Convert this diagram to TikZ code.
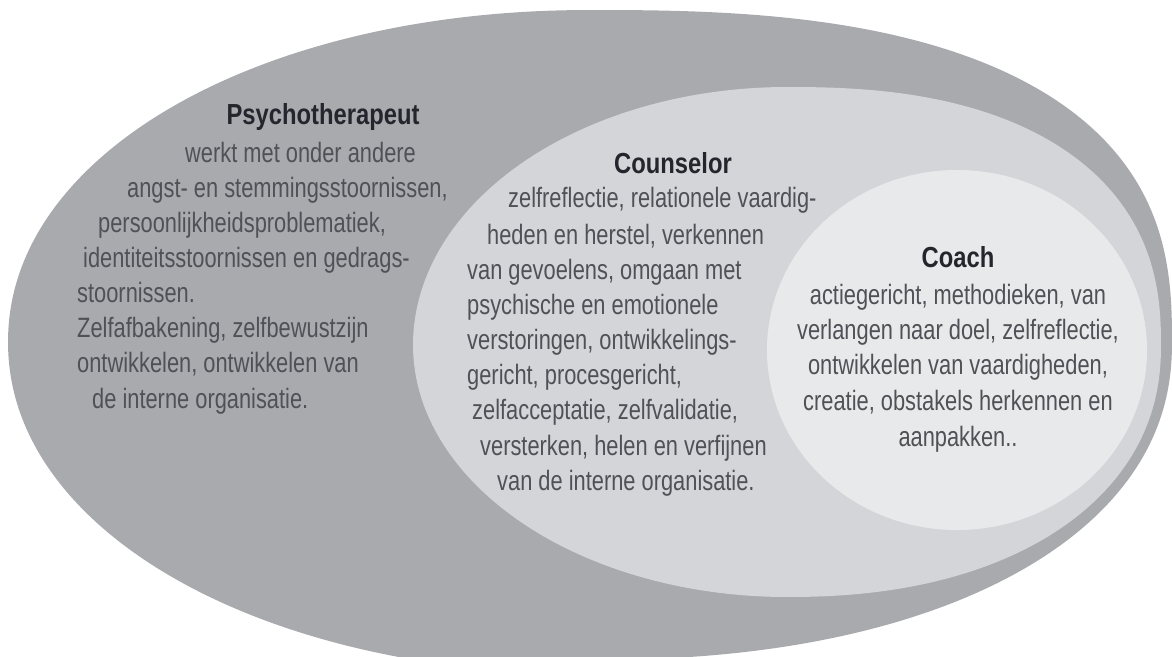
\documentclass[tikz,border=0pt]{standalone}
\usepackage{fontspec}
\newfontfamily\bodyfont[FakeStretch=0.78]{Liberation Sans}
\newfontfamily\headfont[FakeStretch=0.82]{Liberation Sans}
\definecolor{outergray}{HTML}{A9AAAE}
\definecolor{midgray}{HTML}{D4D5D8}
\definecolor{coachgray}{HTML}{E8E9EA}
\definecolor{bodytext}{HTML}{505056}
\definecolor{headtext}{HTML}{25252E}
\tikzset{
  body/.style={font=\bodyfont\fontsize{28}{35}\selectfont, text=bodytext, inner sep=0pt},
  bodyL/.style={body, anchor=base west},
  bodyC/.style={body, anchor=base},
  head/.style={font=\headfont\bfseries\fontsize{29}{35}\selectfont, text=headtext, inner sep=0pt, anchor=base},
  quad/.style={samples=90, variable=\t},
}
\begin{document}
\begin{tikzpicture}[x=1pt,y=-1pt]
\useasboundingbox (0,0) rectangle (1172,656);
\clip (0,0) rectangle (1172,656);
% outer (Psychotherapeut): four superelliptic quadrants
\fill[outergray]
  plot[quad, domain=-89.5:-0.5]
   ({590+582*cos(\t)*abs(cos(\t))^(2/2.6-1)}, {342+332*sin(\t)*abs(sin(\t))^(2/2.6-1)})
  -- plot[quad, domain=0.5:89.5]
   ({590+582*cos(\t)*abs(cos(\t))^(2/2.2-1)}, {342+318*sin(\t)*abs(sin(\t))^(2/2.2-1)})
  -- plot[quad, domain=90.5:179.5]
   ({590+582*cos(\t)*abs(cos(\t))^(2/2.05-1)}, {342+332*sin(\t)*abs(sin(\t))^(2/2.05-1)})
  -- plot[quad, domain=180.5:269.5]
   ({590+582*cos(\t)*abs(cos(\t))^(2/2.05-1)}, {342+332*sin(\t)*abs(sin(\t))^(2/2.05-1)})
  -- cycle;
% middle (Counselor)
\fill[midgray]
  plot[quad, domain=-89.5:-0.5]
   ({787+374*cos(\t)*abs(cos(\t))^(2/2.4-1)}, {345+258*sin(\t)*abs(sin(\t))^(2/2.4-1)})
  -- plot[quad, domain=0.5:89.5]
   ({787+374*cos(\t)*abs(cos(\t))^(2/2.2-1)}, {345+252*sin(\t)*abs(sin(\t))^(2/2.2-1)})
  -- plot[quad, domain=90.5:179.5]
   ({787+374*cos(\t)*abs(cos(\t))^(2/2.0-1)}, {345+252*sin(\t)*abs(sin(\t))^(2/2.0-1)})
  -- plot[quad, domain=180.5:269.5]
   ({787+374*cos(\t)*abs(cos(\t))^(2/2.0-1)}, {345+258*sin(\t)*abs(sin(\t))^(2/2.0-1)})
  -- cycle;
% inner (Coach)
\fill[coachgray] (957,350) ellipse [x radius=190pt, y radius=180pt];

% Psychotherapeut
\node[head] (ph) at (323,124) {Psychotherapeut};
\node[bodyL] (p1) at (185,162) {werkt met onder andere};
\node[bodyL] (p2) at (127,197) {angst- en stemmingsstoornissen,};
\node[bodyL] (p3) at (98,232) {persoonlijkheidsproblematiek,};
\node[bodyL] (p4) at (83,267) {identiteitsstoornissen en gedrags-};
\node[bodyL] (p5) at (77,302) {stoornissen.};
\node[bodyL] (p6) at (77,337) {Zelfafbakening, zelfbewustzijn};
\node[bodyL] (p7) at (77,372) {ontwikkelen, ontwikkelen van};
\node[bodyL] (p8) at (92,408) {de interne organisatie.};

% Counselor
\node[head] (ch) at (673,173) {Counselor};
\node[bodyL] (c1) at (508,207) {zelfreflectie, relationele vaardig-};
\node[bodyL] (c2) at (487,244) {heden en herstel, verkennen};
\node[bodyL] (c3) at (467,279) {van gevoelens, omgaan met};
\node[bodyL] (c4) at (467,314) {psychische en emotionele};
\node[bodyL] (c5) at (467,349) {verstoringen, ontwikkelings-};
\node[bodyL] (c6) at (467,384) {gericht, procesgericht,};
\node[bodyL] (c7) at (472,419) {zelfacceptatie, zelfvalidatie,};
\node[bodyL] (c8) at (480,455) {versterken, helen en verfijnen};
\node[bodyL] (c9) at (497,490) {van de interne organisatie.};

% Coach
\node[head] (kh) at (958,267) {Coach};
\node[bodyC] (k1) at (958,304) {actiegericht, methodieken, van};
\node[bodyC] (k2) at (958,339) {verlangen naar doel, zelfreflectie,};
\node[bodyC] (k3) at (958,374) {ontwikkelen van vaardigheden,};
\node[bodyC] (k4) at (958,410) {creatie, obstakels herkennen en};
\node[bodyC] (k5) at (958,446) {aanpakken..};
\end{tikzpicture}
\end{document}
